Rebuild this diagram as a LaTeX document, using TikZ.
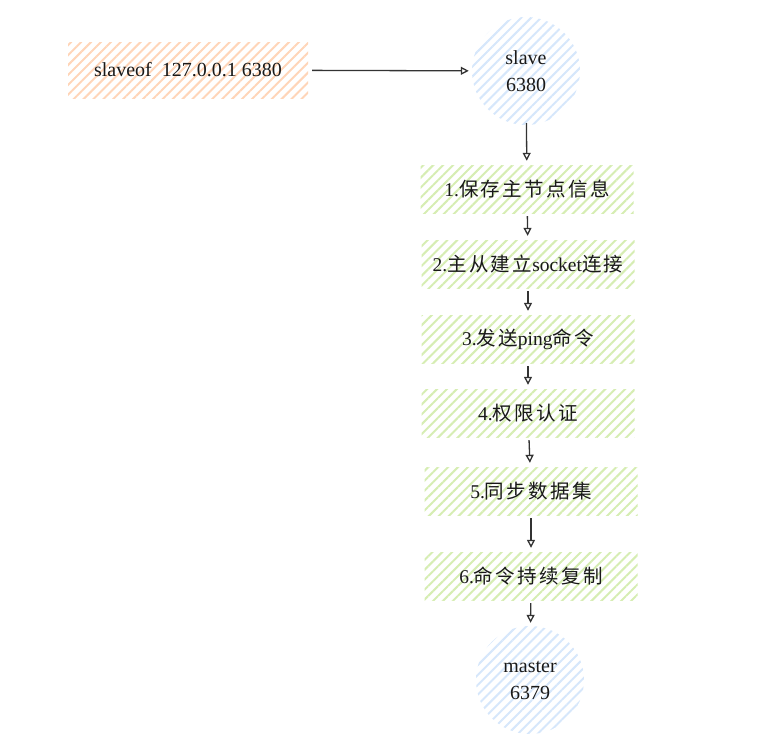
\documentclass[tikz,border=0pt]{standalone}
\usepackage{fontspec}
\setmainfont{Liberation Serif}
\newfontfamily\cjk[LetterSpace=12]{Noto Sans CJK SC}
\usetikzlibrary{patterns.meta,arrows.meta}
\definecolor{hatchorange}{HTML}{FFD5B8}
\definecolor{hatchblue}{HTML}{D6E7FB}
\definecolor{hatchgreen}{HTML}{D6EDB3}
\definecolor{ink}{HTML}{333333}

\begin{document}
\begin{tikzpicture}[x=1pt,y=-1pt]
        \useasboundingbox (0,0) rectangle (763,737);
        \tikzstyle{every node}=[inner sep=0pt, align=center, text=black!90, font=\fontsize{20}{27}\selectfont]
        \tikzstyle{hatch}=[pattern={Lines[angle=45,distance=7pt,line width=2pt]}]
        \tikzstyle{stage}=[hatch, rectangle, pattern color=hatchgreen, minimum width=213pt, minimum height=48pt, font=\fontsize{19.5}{22}\selectfont]
        \tikzstyle{redis}=[hatch, circle, pattern color=hatchblue, minimum size=108pt]
        \tikzstyle{edge}=[ink, line width=1.3pt, -{Triangle[open,length=8pt,width=8pt]}]

        \node[hatch, rectangle, pattern color=hatchorange, minimum width=240pt, minimum height=56pt] (cmd) at (188,70) {slaveof\ \ 127.0.0.1 6380};
        \node[redis] (slave) at (526,71) {slave\\6380};

        \node[stage] (s1) at (527,189) {1.{\cjk 保存主节点信息}};
        \node[stage] (s2) at (528,264) {2.{\cjk 主从建立}socket{\cjk 连接}};
        \node[stage] (s3) at (528,339) {3.{\cjk 发送}ping{\cjk 命令}};
        \node[stage] (s4) at (528,413) {4.{\cjk 权限认证}};
        \node[stage] (s5) at (531,491) {5.{\cjk 同步数据集}};
        \node[stage] (s6) at (531,576) {6.{\cjk 命令持续复制}};

        \node[redis] (master) at (530,680) {master\\6379};

        \draw[edge, shorten <=3pt, shorten >=3pt] (cmd) -- (slave);
        \draw[edge, shorten <=-2pt, shorten >=4pt] (slave) -- (s1);
        \draw[edge, shorten <=3pt, shorten >=4pt] (s1) -- (s2);
        \draw[edge, shorten <=3pt, shorten >=4pt] (s2) -- (s3);
        \draw[edge, shorten <=3pt, shorten >=4pt] (s3) -- (s4);
        \draw[edge, shorten <=3pt, shorten >=4pt] (s4) -- (s5);
        \draw[edge, shorten <=3pt, shorten >=4pt] (s5) -- (s6);
        \draw[edge, shorten <=3pt, shorten >=3pt] (s6) -- (master);
\end{tikzpicture}
\end{document}
